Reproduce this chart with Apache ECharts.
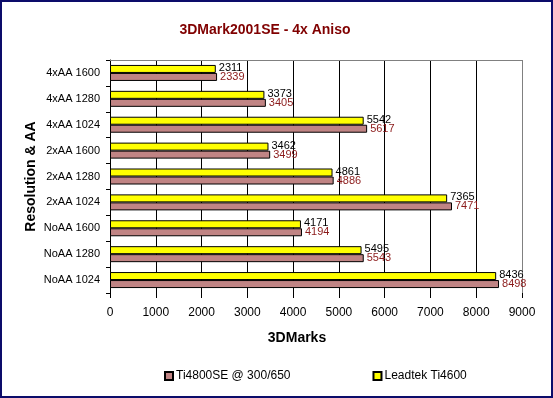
<!DOCTYPE html>
<html>
<head>
<meta charset="utf-8">
<script src="https://cdn.jsdelivr.net/npm/echarts@6/dist/echarts.min.js"></script>
<style>
  html, body { margin: 0; padding: 0; background: #fff; }
  #chart { width: 553px; height: 398px; }
  .frame {
    position: absolute; left: 0; top: 0; width: 553px; height: 398px;
    box-sizing: border-box; border: 2px solid #0c0c6a; pointer-events: none;
  }
</style>
</head>
<body>
<div id="chart"></div>
<div class="frame"></div>
<script>
// categories top to bottom
const categories = ["4xAA 1600", "4xAA 1280", "4xAA 1024", "2xAA 1600", "2xAA 1280",
  "2xAA 1024", "NoAA 1600", "NoAA 1280", "NoAA 1024"];
const leadtek = [2311, 3373, 5542, 3462, 4861, 7365, 4171, 5495, 8436];
const ti4800se = [2339, 3405, 5617, 3499, 4886, 7471, 4194, 5543, 8498];
const xTicks = [0, 1000, 2000, 3000, 4000, 5000, 6000, 7000, 8000, 9000];

const FONT = "Liberation Sans, Arial, sans-serif";
const chart = echarts.init(document.getElementById("chart"));

const gridLineColors = xTicks.map((t, i) => (i === xTicks.length - 1 ? "#808080" : "#000"));

const option = {
  backgroundColor: "#fff",
  animation: false,
  title: {
    text: "3DMark2001SE - 4x Aniso",
    left: 260,
    textAlign: "center",
    top: 18,
    textStyle: { fontFamily: FONT, fontSize: 14, fontWeight: "bold", color: "#800000" }
  },
  legend: {
    data: ["Ti4800SE @ 300/650", "Leadtek Ti4600"],
    left: 159,
    top: 365,
    itemWidth: 8,
    itemHeight: 8,
    itemGap: 82,
    icon: "rect",
    textStyle: { fontFamily: FONT, fontSize: 12, color: "#000", padding: [0, 0, 0, -2] }
  },
  grid: { left: 110, right: 31, top: 60, bottom: 105 },
  xAxis: [
    {
      type: "value",
      min: 0,
      max: 9000,
      interval: 1000,
      name: "3DMarks",
      nameLocation: "middle",
      nameGap: 38,
      nameMoveOverlap: false,
      nameTextStyle: { fontFamily: FONT, fontSize: 14, fontWeight: "bold", color: "#000", padding: [0, 38, 0, 0] },
      axisLine: { show: false },
      axisTick: { show: true, length: 5, lineStyle: { color: "#000" } },
      axisLabel: { fontFamily: FONT, fontSize: 12, color: "#000", margin: 14, formatter: (v) => String(v) },
      splitLine: { show: true, lineStyle: { color: gridLineColors, width: 1 } }
    },
    {
      type: "value",
      position: "top",
      min: 0,
      max: 9000,
      axisLine: { show: true, lineStyle: { color: "#808080" } },
      axisTick: { show: false },
      axisLabel: { show: false },
      splitLine: { show: false }
    }
  ],
  yAxis: {
    type: "category",
    data: categories,
    inverse: true,
    name: "Resolution & AA",
    nameLocation: "middle",
    nameGap: 72,
    nameMoveOverlap: false,
    nameTextStyle: { fontFamily: FONT, fontSize: 14, fontWeight: "bold", color: "#000" },
    axisLine: { show: true, lineStyle: { color: "#000" } },
    axisTick: { show: true, length: 4, lineStyle: { color: "#000" } },
    axisLabel: { fontFamily: FONT, fontSize: 11, color: "#000", margin: 10 }
  },
  series: [
    {
      name: "Leadtek Ti4600",
      type: "bar",
      data: leadtek,
      barWidth: 8,
      barGap: "0%",
      itemStyle: { color: "#ffff00", borderColor: "#000", borderWidth: 1 },
      label: {
        show: true, position: "right", distance: 3, offset: [0, -1],
        fontFamily: FONT, fontSize: 11, color: "#000"
      }
    },
    {
      name: "Ti4800SE @ 300/650",
      type: "bar",
      data: ti4800se,
      barWidth: 8,
      itemStyle: { color: "#c08484", borderColor: "#000", borderWidth: 1 },
      label: {
        show: true, position: "right", distance: 3, offset: [0, 0],
        fontFamily: FONT, fontSize: 11, color: "#8b1a1a"
      }
    }
  ]
};

chart.setOption(option);
</script>
</body>
</html>
